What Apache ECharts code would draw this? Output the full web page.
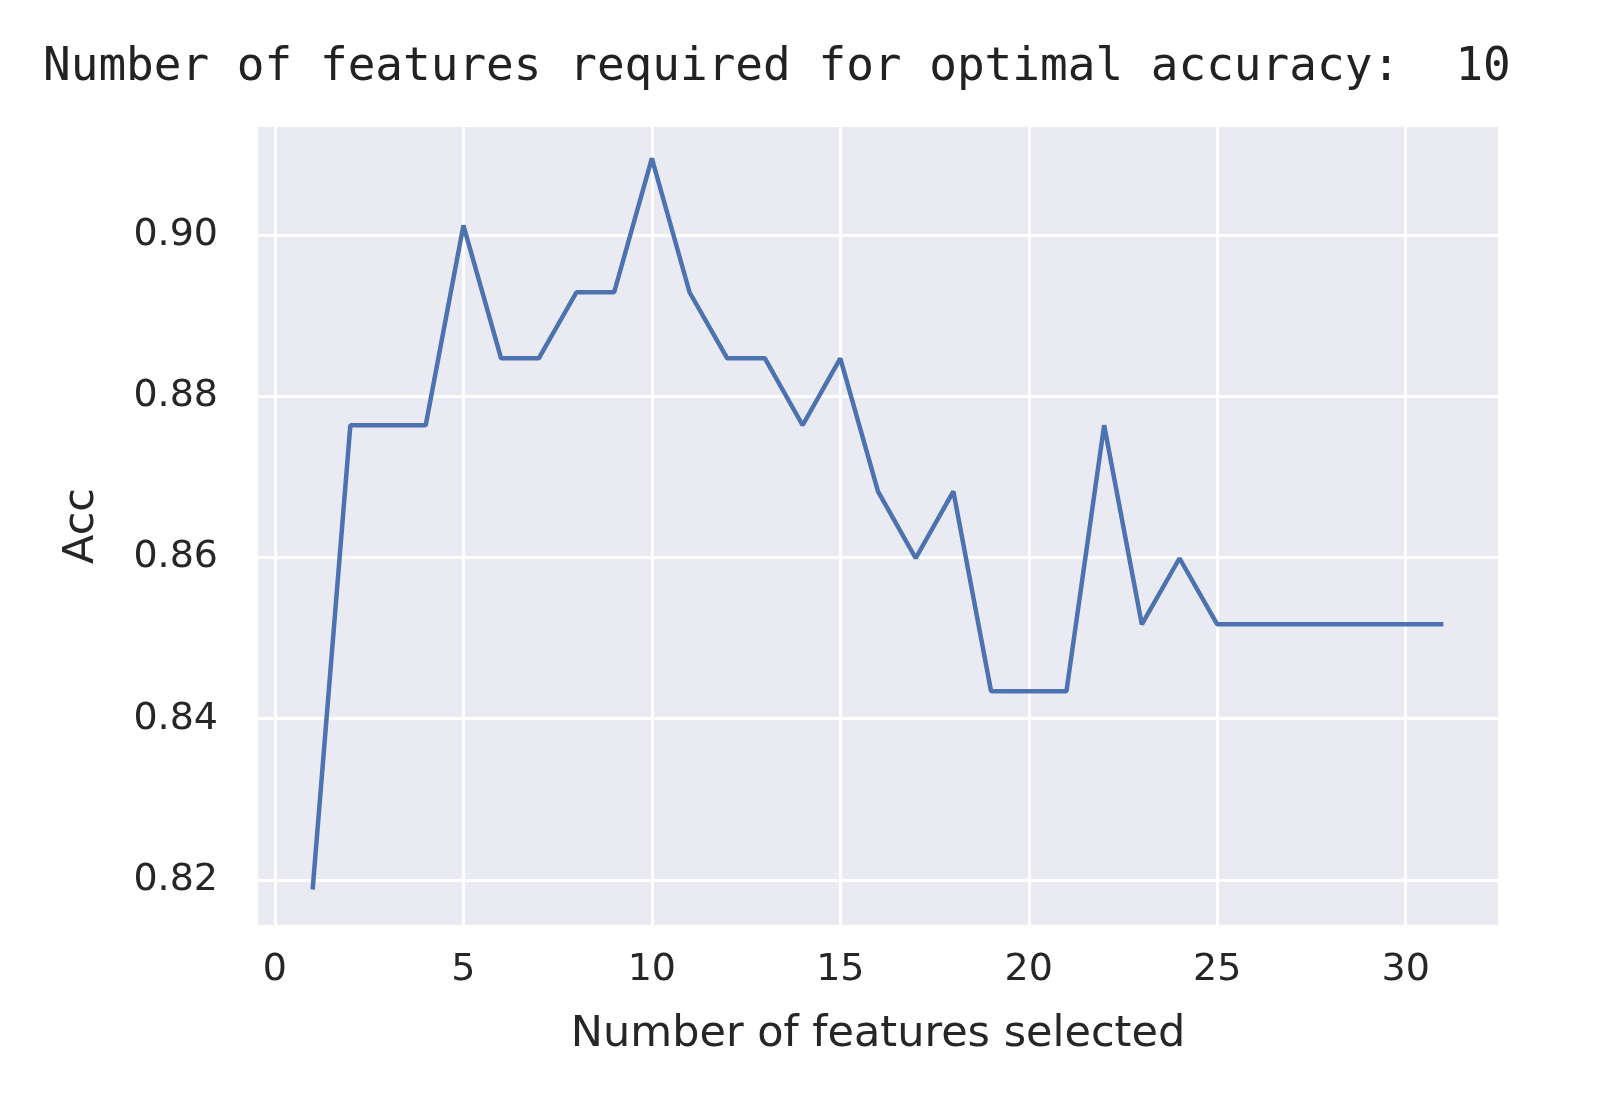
<!DOCTYPE html>
<html>
<head>
<meta charset="utf-8">
<script src="https://cdn.jsdelivr.net/npm/echarts@6/dist/echarts.min.js"></script>
<style>html,body{margin:0;padding:0;background:#fff}#main{width:1610px;height:1111px}</style>
</head>
<body>
<div id="main"></div>
<script>
const features = [1,2,3,4,5,6,7,8,9,10,11,12,13,14,15,16,17,18,19,20,21,22,23,24,25,26,27,28,29,30,31];
const accuracy = [0.8188,0.8764,0.8764,0.8764,0.9012,0.8847,0.8847,0.8929,0.8929,0.9095,
  0.8929,0.8847,0.8847,0.8764,0.8847,0.8682,0.8599,0.8682,0.8434,0.8434,
  0.8434,0.8764,0.8517,0.8599,0.8517,0.8517,0.8517,0.8517,0.8517,0.8517,0.8517];
const xTicks = [0,5,10,15,20,25,30];
const yTicks = [0.82,0.84,0.86,0.88,0.90];

const chart = echarts.init(document.getElementById('main'));
const labelFont = { color: '#262626', fontSize: 38, fontFamily: 'DejaVu Sans' };
chart.setOption({
  animation: false,
  title: {
    text: 'Number of features required for optimal accuracy:  10',
    left: 38, top: 40,
    textStyle: { fontFamily: 'DejaVu Sans Mono', fontSize: 46, fontWeight: 'normal', color: '#222' }
  },
  grid: { left: 258, right: 112, top: 127, bottom: 186, backgroundColor: '#EAEAF2', show: true, borderWidth: 0 },
  xAxis: {
    type: 'value', min: -0.45, max: 32.45,
    name: 'Number of features selected', nameLocation: 'middle', nameGap: 88,
    nameTextStyle: { color: '#262626', fontSize: 43, fontFamily: 'DejaVu Sans' },
    axisLine: { show: false }, axisTick: { show: false, customValues: xTicks },
    axisLabel: Object.assign({ customValues: xTicks, margin: 26, formatter: v => String(v) }, labelFont),
    splitLine: { show: true, lineStyle: { color: '#fff', width: 3 } }
  },
  yAxis: {
    type: 'value', min: 0.8144, max: 0.9134,
    name: 'Acc', nameLocation: 'middle', nameGap: 155, nameRotate: 90,
    nameTextStyle: { color: '#262626', fontSize: 43, fontFamily: 'DejaVu Sans' },
    axisLine: { show: false }, axisTick: { show: false, customValues: yTicks },
    axisLabel: Object.assign({ customValues: yTicks, margin: 40, formatter: v => v.toFixed(2) }, labelFont),
    splitLine: { show: true, lineStyle: { color: '#fff', width: 3 } }
  },
  series: [{
    type: 'line',
    data: features.map((f, i) => [f, accuracy[i]]),
    showSymbol: false,
    lineStyle: { color: '#4C72B0', width: 4.5 }
  }]
});
</script>
</body>
</html>
